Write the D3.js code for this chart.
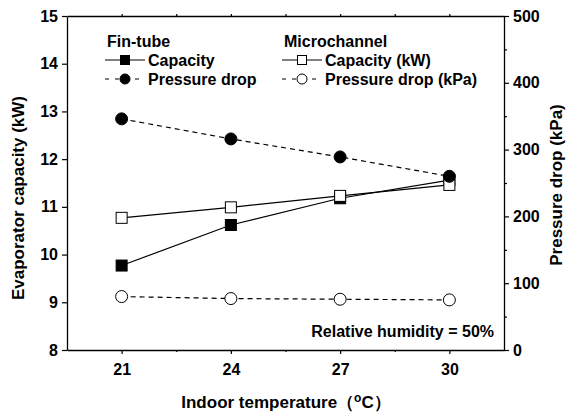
<!DOCTYPE html>
<html>
<head>
<meta charset="utf-8">
<script src="https://cdn.jsdelivr.net/npm/d3@7"></script>
<style>
  body { margin: 0; background: #fff; }
  text { font-family: "Liberation Sans", Arial, sans-serif; font-weight: bold; fill: #000; }
</style>
</head>
<body>
<svg width="573" height="416"></svg>
<script>
// The data:
const temps = [21, 24, 27, 30]
const finCapacity = [9.77, 10.62, 11.18, 11.56]
const microCapacity = [10.77, 10.99, 11.23, 11.46]
const finPressure = [346, 316, 289, 260]
const microPressure = [80, 77, 76, 75]
const leftTicks = [8, 9, 10, 11, 12, 13, 14, 15]
const rightTicks = [0, 100, 200, 300, 400, 500]

const svg = d3.select('svg')
const L = 67, R = 504, T = 16, B = 350

// Scales: temperature on x, capacity on left y, pressure drop on right y
let xScale = d3.scaleLinear().domain([19.5, 31.5]).range([L, R])
let yLeft = d3.scaleLinear().domain([8, 15]).range([B, T])
let yRight = d3.scaleLinear().domain([0, 500]).range([B, T])

// Frame axes
const styleAxis = (g, size) => {
  g.select('.domain').attr('stroke', '#000').attr('stroke-width', 1.3)
  g.selectAll('.tick line').attr('stroke', '#000').attr('stroke-width', 1.2)
  g.selectAll('.tick text').style('font-size', size + 'px')
}

let xAxis = d3.axisBottom(xScale).tickValues(temps).tickSize(4).tickSizeOuter(0).tickPadding(10)
  .tickFormat(d3.format('d'))
svg.append('g').attr('transform', `translate(0,${B})`).call(xAxis).call(g => styleAxis(g, 16))
svg.append('g').attr('transform', `translate(0,${B})`)
  .call(d3.axisBottom(xScale).tickValues([22.5, 25.5, 28.5]).tickSize(2).tickFormat(''))
  .call(g => { g.select('.domain').remove(); g.selectAll('line').attr('stroke-width', 1.2) })
svg.append('g').attr('transform', `translate(0,${T})`)
  .call(d3.axisTop(xScale).tickValues([21, 22.5, 24, 25.5, 27, 28.5, 30]).tickSize(2).tickSizeOuter(0).tickFormat(''))
  .call(g => styleAxis(g, 16))

let leftAxis = d3.axisLeft(yLeft).tickValues(leftTicks).tickSize(5).tickSizeOuter(0).tickPadding(4)
  .tickFormat(d3.format('d'))
svg.append('g').attr('transform', `translate(${L},0)`).call(leftAxis).call(g => styleAxis(g, 16))

let rightAxis = d3.axisRight(yRight).tickValues(rightTicks).tickSize(5).tickSizeOuter(0).tickPadding(4)
svg.append('g').attr('transform', `translate(${R},0)`).call(rightAxis).call(g => styleAxis(g, 16))
svg.append('g').attr('transform', `translate(${R},0)`)
  .call(d3.axisRight(yRight).tickValues([50, 150, 250, 350, 450]).tickSize(3).tickFormat(''))
  .call(g => { g.select('.domain').remove(); g.selectAll('line').attr('stroke-width', 1.2) })

// Series
const series = [
  { vals: finCapacity, y: yLeft, marker: 'square', fill: '#000', dash: null },
  { vals: microCapacity, y: yLeft, marker: 'square', fill: '#fff', dash: null },
  { vals: finPressure, y: yRight, marker: 'circle', fill: '#000', dash: '5,4' },
  { vals: microPressure, y: yRight, marker: 'circle', fill: '#fff', dash: '5,4' },
]

const drawMarker = (g, kind, fill, x, y, s) => {
  if (kind === 'square') {
    g.append('rect').attr('x', x - s).attr('y', y - s).attr('width', 2 * s).attr('height', 2 * s)
      .attr('fill', fill).attr('stroke', '#000').attr('stroke-width', 1)
  } else {
    g.append('circle').attr('cx', x).attr('cy', y).attr('r', s + 0.5)
      .attr('fill', fill).attr('stroke', '#000').attr('stroke-width', 1)
  }
}

series.forEach(s => {
  const line = d3.line().x((d, i) => xScale(temps[i])).y(d => s.y(d))
  svg.append('path').datum(s.vals).attr('d', line).attr('fill', 'none')
    .attr('stroke', '#000').attr('stroke-width', 1.2).attr('stroke-dasharray', s.dash)
  const g = svg.append('g')
  s.vals.forEach((v, i) => drawMarker(g, s.marker, s.fill, xScale(temps[i]), s.y(v), 5.5))
})

// Legend
const legendBlock = (x, title, items) => {
  svg.append('text').attr('x', x).attr('y', 47).style('font-size', '16px').text(title)
  items.forEach((it, i) => {
    const y = 60 + i * 19
    svg.append('line').attr('x1', x - 2).attr('x2', x + 38).attr('y1', y).attr('y2', y)
      .attr('stroke', '#000').attr('stroke-width', 1.2).attr('stroke-dasharray', it.dash)
    drawMarker(svg, it.marker, it.fill, x + 18, y, 4.5)
    svg.append('text').attr('x', x + 41).attr('y', y + 6).style('font-size', '16px').text(it.label)
  })
}
legendBlock(107, 'Fin-tube', [
  { label: 'Capacity', marker: 'square', fill: '#000', dash: null },
  { label: 'Pressure drop', marker: 'circle', fill: '#000', dash: '4,6' },
])
legendBlock(284, 'Microchannel', [
  { label: 'Capacity (kW)', marker: 'square', fill: '#fff', dash: null },
  { label: 'Pressure drop (kPa)', marker: 'circle', fill: '#fff', dash: '4,6' },
])

svg.append('text').attr('x', 494).attr('y', 337).attr('text-anchor', 'end')
  .style('font-size', '16px').text('Relative humidity = 50%')

// Axis titles
svg.append('text').attr('transform', 'translate(24,198) rotate(-90)')
  .attr('text-anchor', 'middle').style('font-size', '17px').text('Evaporator capacity (kW)')
svg.append('text').attr('transform', 'translate(562,185) rotate(-90)')
  .attr('text-anchor', 'middle').style('font-size', '17px').text('Pressure drop (kPa)')

const xt = svg.append('text').attr('x', 286).attr('y', 408).attr('text-anchor', 'middle').style('font-size', '17px')
xt.append('tspan').text('Indoor temperature\uFF08')
xt.append('tspan').attr('dy', -6).style('font-size', '12px').text('o')
xt.append('tspan').attr('dy', 6).text('C\uFF09')
</script>
</body>
</html>
